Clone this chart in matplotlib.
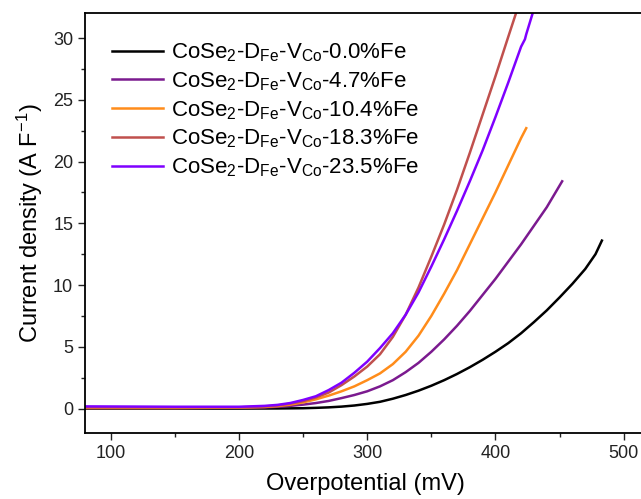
import numpy as np
from matplotlib import pyplot as plt
from matplotlib.ticker import MultipleLocator

plt.rcParams['font.family'] = 'Liberation Sans'
plt.rcParams['mathtext.fontset'] = 'custom'
plt.rcParams['mathtext.rm'] = 'Liberation Sans'
plt.rcParams['mathtext.it'] = 'Liberation Sans'

# overpotential (mV) / current density (A F^-1)
fe_00_x = [80, 150, 200, 230, 250, 260, 270, 280, 290, 300, 310, 320, 330, 340, 350, 360, 370,
           380, 390, 400, 410, 420, 430, 440, 450, 460, 470, 478, 483]
fe_00_y = [0.0, 0.0, 0.0, 0.01, 0.03, 0.06, 0.1, 0.16, 0.25, 0.38, 0.55, 0.8, 1.1, 1.45, 1.85,
           2.3, 2.8, 3.35, 3.95, 4.6, 5.3, 6.1, 7.0, 7.95, 9.0, 10.1, 11.3, 12.5, 13.6]

fe_47_x = [80, 150, 200, 220, 230, 240, 250, 260, 270, 280, 290, 300, 310, 320, 330, 340, 350,
           360, 370, 380, 390, 400, 410, 420, 430, 440, 452]
fe_47_y = [0.05, 0.05, 0.07, 0.1, 0.15, 0.22, 0.32, 0.45, 0.62, 0.85, 1.1, 1.4, 1.8, 2.3, 2.95,
           3.7, 4.6, 5.6, 6.7, 7.9, 9.2, 10.5, 11.9, 13.3, 14.8, 16.3, 18.4]

fe_104_x = [80, 150, 200, 220, 230, 240, 250, 260, 270, 280, 290, 300, 310, 320, 330, 340, 350,
            360, 370, 380, 390, 400, 410, 420, 424]
fe_104_y = [0.05, 0.05, 0.08, 0.13, 0.2, 0.32, 0.5, 0.75, 1.05, 1.4, 1.8, 2.3, 2.85, 3.6, 4.6,
            5.9, 7.5, 9.3, 11.2, 13.3, 15.4, 17.5, 19.7, 21.9, 22.7]

fe_183_x = [80, 150, 200, 220, 230, 240, 250, 260, 270, 280, 290, 300, 310, 320, 330, 340, 350,
            360, 370, 380, 390, 400, 410, 416, 420]
fe_183_y = [0.1, 0.1, 0.1, 0.17, 0.25, 0.4, 0.6, 0.9, 1.3, 1.9, 2.6, 3.4, 4.4, 5.8, 7.6, 9.8,
            12.3, 14.9, 17.7, 20.7, 23.8, 26.9, 30.1, 32.0, 33.3]

fe_235_x = [80, 150, 200, 220, 230, 240, 250, 260, 270, 280, 290, 300, 310, 320, 330, 340, 350,
            360, 370, 380, 390, 400, 410, 420, 423, 424, 429, 433]
fe_235_y = [0.18, 0.15, 0.15, 0.22, 0.3, 0.45, 0.7, 1.0, 1.5, 2.1, 2.9, 3.8, 4.9, 6.1, 7.6, 9.4,
            11.5, 13.7, 16.0, 18.4, 20.9, 23.6, 26.4, 29.3, 29.9, 30.3, 32.0, 33.2]

labels = [
    r'CoSe$_2$-D$_{\mathrm{Fe}}$-V$_{\mathrm{Co}}$-0.0%Fe',
    r'CoSe$_2$-D$_{\mathrm{Fe}}$-V$_{\mathrm{Co}}$-4.7%Fe',
    r'CoSe$_2$-D$_{\mathrm{Fe}}$-V$_{\mathrm{Co}}$-10.4%Fe',
    r'CoSe$_2$-D$_{\mathrm{Fe}}$-V$_{\mathrm{Co}}$-18.3%Fe',
    r'CoSe$_2$-D$_{\mathrm{Fe}}$-V$_{\mathrm{Co}}$-23.5%Fe',
]
colors = ['#000000', '#7b1a8f', '#ff8c1a', '#c0504d', '#7f00ff']

series = [(fe_00_x, fe_00_y), (fe_47_x, fe_47_y), (fe_104_x, fe_104_y),
          (fe_183_x, fe_183_y), (fe_235_x, fe_235_y)]

fig = plt.figure(figsize=(6.41, 4.99), dpi=100)
ax = fig.add_axes([85 / 641, 65.7 / 499, 560 / 641, 420 / 499])

for (x, y), c, lab in zip(series, colors, labels):
    ax.plot(x, y, color=c, lw=1.8, label=lab, solid_joinstyle='round')

ax.set_xlim(80, 516.6)
ax.set_ylim(-2, 32)
ax.xaxis.set_major_locator(MultipleLocator(100))
ax.xaxis.set_minor_locator(MultipleLocator(50))
ax.yaxis.set_major_locator(MultipleLocator(5))
ax.yaxis.set_minor_locator(MultipleLocator(2.5))
ax.tick_params(which='both', direction='out', top=False, right=False, labelsize=13,
               width=1, colors='#222222', labelcolor='#222222')
ax.tick_params(which='major', length=5)
ax.tick_params(which='minor', length=3)
for s in ax.spines.values():
    s.set_linewidth(1.3)

ax.set_xlabel('Overpotential (mV)', fontsize=17, labelpad=8)
ax.set_ylabel(r'Current density (A F$^{-1}$)', fontsize=17, labelpad=6)

ax.legend(loc='upper left', bbox_to_anchor=(0.025, 0.965), frameon=False, fontsize=16,
          handlelength=2.3, handletextpad=0.35, labelspacing=0.28, borderaxespad=0.2)

fig.savefig('out.png', dpi=100)
